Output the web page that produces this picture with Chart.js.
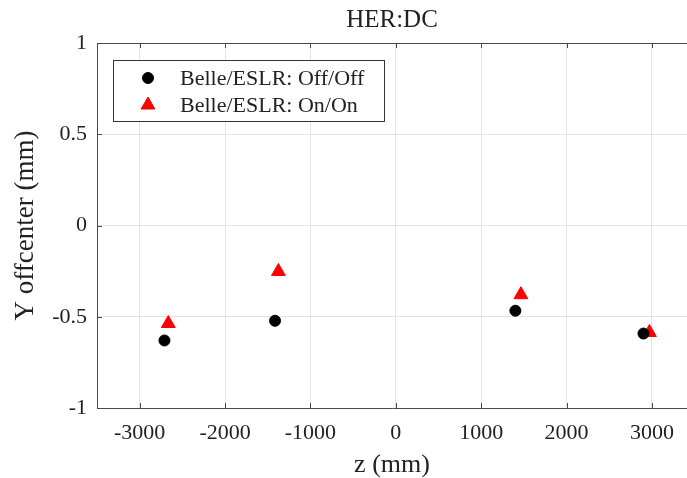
<!DOCTYPE html>
<html lang="en">
  <head>
    <meta charset="UTF-8" />
    <title>HER:DC</title>
    <script src="https://cdn.jsdelivr.net/npm/chart.js@4"></script>
    <style>
      html, body { margin: 0; padding: 0; background: #fff; }
      .chart-box { width: 687px; height: 478px; }
    </style>
  </head>
  <body>
    <div class="chart-box">
      <canvas id="offsetChart"></canvas>
    </div>

    <script>
      // data
      const zOff = [-2710, -1415, 1400, 2900];
      const yOff = [-0.63, -0.522, -0.467, -0.592];
      const zOn = [-2665, -1375, 1465, 2970];
      const yOn = [-0.537, -0.252, -0.379, -0.586];

      const xTicks = [-3000, -2000, -1000, 0, 1000, 2000, 3000];
      const yTicks = [-1, -0.5, 0, 0.5, 1];

      const seriesLabels = ["Belle/ESLR: Off/Off", "Belle/ESLR: On/On"];

      const serif = "'Liberation Serif', 'Times New Roman', serif";
      const axisColor = "#4a4a4a";
      const gridColor = "#e3e3e3";
      const textColor = "#222";

      function toPoints(xs, ys) {
        return xs.map((x, i) => ({ x: x, y: ys[i] }));
      }

      // matlab-ish box: top line + inward tick marks
      const boxPlugin = {
        id: "boxTicks",
        afterDatasetsDraw(chart) {
          const ctx = chart.ctx;
          const area = chart.chartArea;
          const xs = chart.scales.x;
          const ys = chart.scales.y;
          const tick = 5;
          ctx.save();
          ctx.strokeStyle = axisColor;
          ctx.lineWidth = 1;
          ctx.beginPath();
          ctx.moveTo(area.left, area.top + 0.5);
          ctx.lineTo(area.right, area.top + 0.5);
          xTicks.forEach((v) => {
            const px = Math.round(xs.getPixelForValue(v)) + 0.5;
            ctx.moveTo(px, area.top);
            ctx.lineTo(px, area.top + tick);
            ctx.moveTo(px, area.bottom);
            ctx.lineTo(px, area.bottom - tick);
          });
          yTicks.forEach((v) => {
            const py = Math.round(ys.getPixelForValue(v)) + 0.5;
            ctx.moveTo(area.left, py);
            ctx.lineTo(area.left + tick, py);
          });
          ctx.stroke();
          ctx.restore();
        },
      };

      // legend box inside the plot, upper left
      const legendPlugin = {
        id: "boxLegend",
        afterDatasetsDraw(chart) {
          const ctx = chart.ctx;
          const bx = 113.5, by = 60.5, bw = 271, bh = 61;
          ctx.save();
          ctx.fillStyle = "#fff";
          ctx.fillRect(bx, by, bw, bh);
          ctx.strokeStyle = "#333";
          ctx.lineWidth = 1;
          ctx.strokeRect(bx, by, bw, bh);

          const rows = [78, 105];
          chart.data.datasets.forEach((ds, i) => {
            ctx.fillStyle = ds.backgroundColor;
            ctx.strokeStyle = ds.borderColor;
            Chart.helpers.drawPoint(
              ctx,
              { pointStyle: ds.pointStyle, radius: ds.pointRadius, rotation: 0, borderWidth: 1 },
              148,
              rows[i]
            );
            ctx.fillStyle = textColor;
            ctx.font = "22px " + serif;
            ctx.textAlign = "left";
            ctx.textBaseline = "middle";
            ctx.fillText(ds.label, 180, rows[i] + 1);
          });
          ctx.restore();
        },
      };

      const config = {
        type: "scatter",
        data: {
          datasets: [
            {
              label: seriesLabels[0],
              data: toPoints(zOff, yOff),
              pointStyle: "circle",
              pointRadius: 5.5,
              backgroundColor: "#000",
              borderColor: "#000",
              borderWidth: 1,
            },
            {
              label: seriesLabels[1],
              data: toPoints(zOn, yOn),
              pointStyle: "triangle",
              pointRadius: 8,
              backgroundColor: "#ff0000",
              borderColor: "#ff0000",
              borderWidth: 1,
            },
          ],
        },
        options: {
          animation: false,
          responsive: true,
          maintainAspectRatio: false,
          layout: { padding: 0, autoPadding: false },
          plugins: {
            legend: { display: false },
            tooltip: { enabled: false },
            title: {
              display: true,
              text: "HER:DC",
              fullSize: false,
              color: textColor,
              font: { family: serif, size: 25, weight: "normal", lineHeight: 1.2 },
              padding: { top: 5, bottom: 8 },
            },
          },
          scales: {
            x: {
              type: "linear",
              min: -3500,
              max: 3410,
              afterBuildTicks(scale) {
                scale.ticks = xTicks.map((v) => ({ value: v }));
              },
              afterFit(scale) {
                scale.height = 70;
                scale.paddingLeft = 0;
                scale.paddingRight = 0;
              },
              border: { display: true, color: axisColor, width: 1 },
              grid: { color: gridColor, drawTicks: false },
              ticks: {
                color: textColor,
                padding: 12,
                maxRotation: 0,
                font: { family: serif, size: 22 },
                callback: (v) => String(v),
              },
              title: {
                display: true,
                text: "z (mm)",
                color: textColor,
                font: { family: serif, size: 26, lineHeight: 1.0 },
                padding: 0,
              },
            },
            y: {
              type: "linear",
              min: -1,
              max: 1,
              afterBuildTicks(scale) {
                scale.ticks = yTicks.map((v) => ({ value: v }));
              },
              afterFit(scale) {
                scale.width = 97;
                scale.paddingTop = 0;
                scale.paddingBottom = 0;
              },
              border: { display: true, color: axisColor, width: 1 },
              grid: { color: gridColor, drawTicks: false },
              ticks: {
                color: textColor,
                padding: 10,
                font: { family: serif, size: 22 },
                callback: (v) => String(v),
              },
              title: {
                display: true,
                text: "Y offcenter (mm)",
                color: textColor,
                font: { family: serif, size: 27, lineHeight: 1.2 },
                padding: { top: 10, bottom: 0 },
              },
            },
          },
        },
        plugins: [boxPlugin, legendPlugin],
      };

      const ctx = document.getElementById("offsetChart").getContext("2d");
      const offsetChart = new Chart(ctx, config);
    </script>
  </body>
</html>
